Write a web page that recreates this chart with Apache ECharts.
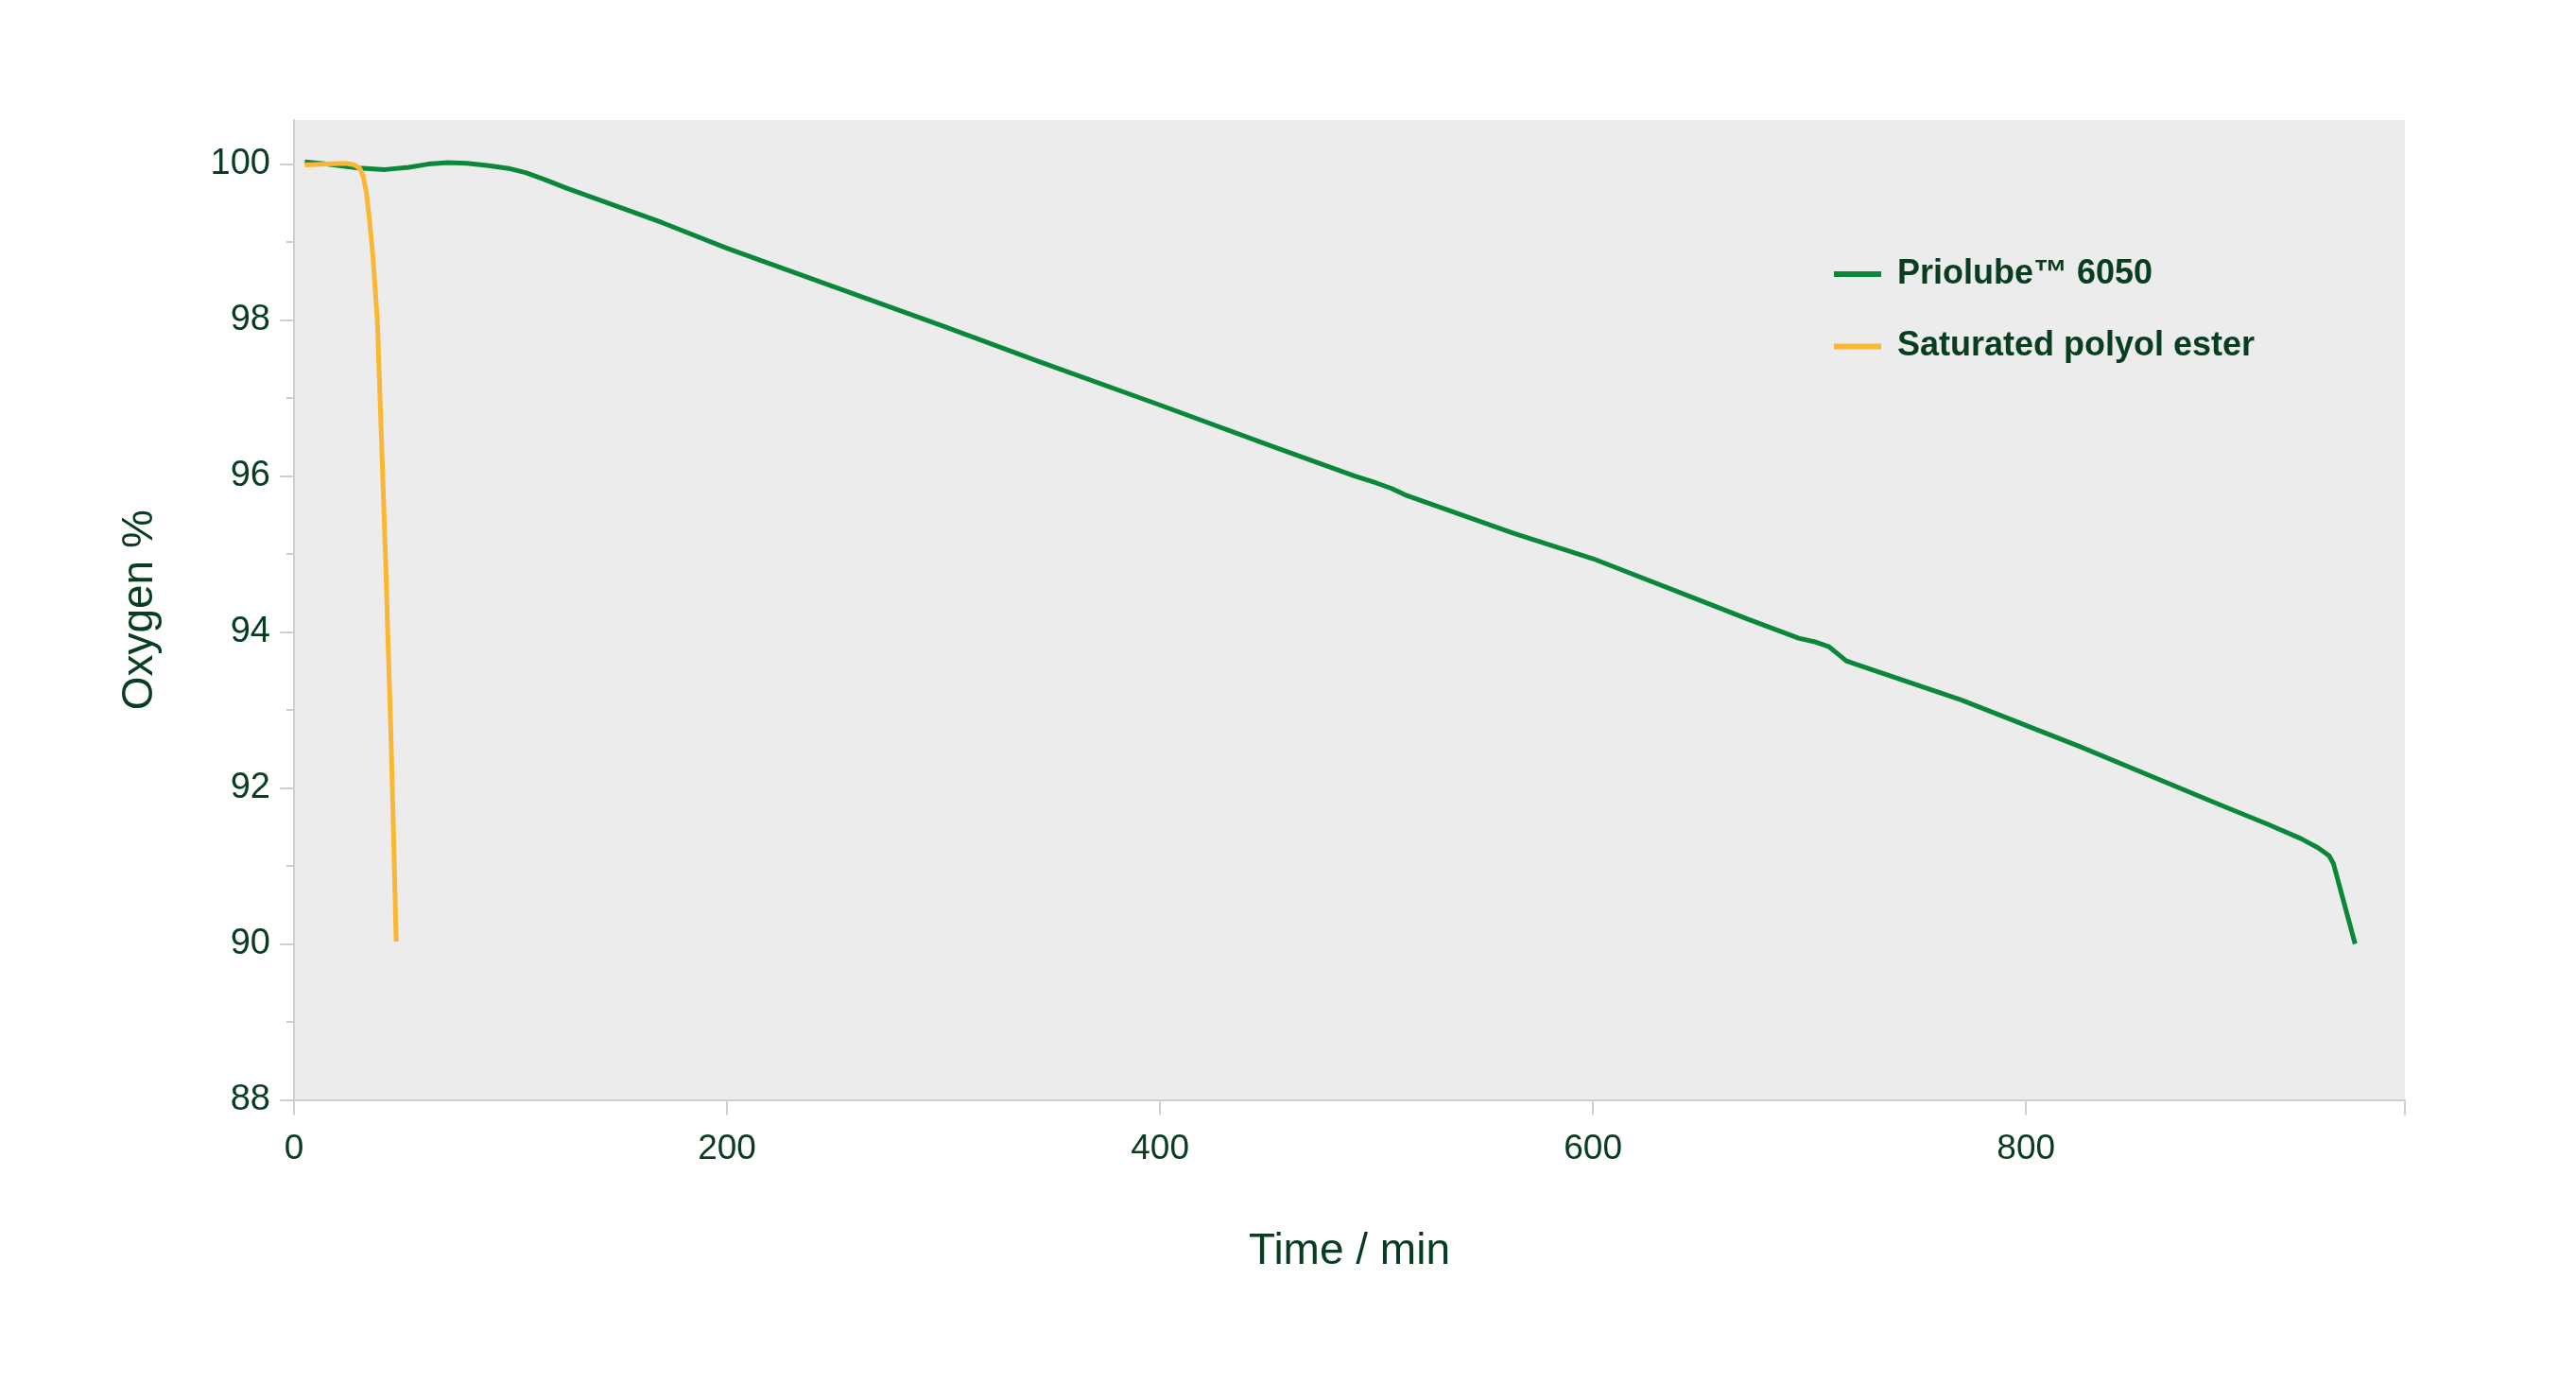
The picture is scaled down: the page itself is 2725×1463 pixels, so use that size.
<!DOCTYPE html>
<html>
<head>
<meta charset="utf-8">
<script src="https://cdn.jsdelivr.net/npm/echarts@6/dist/echarts.min.js"></script>
<style>
html, body { margin: 0; padding: 0; background: #fff; }
#chart { width: 2725px; height: 1463px; }
</style>
</head>
<body>
<div id="chart"></div>
<script>
// values
const seriesNames = ['Priolube\u2122 6050', 'Saturated polyol ester'];

const prioTime = [5, 15, 30, 42, 53, 62, 71, 80, 90, 100, 107, 116, 126, 170, 200, 250, 300, 344, 400, 450, 490, 500, 507, 513, 563, 600, 650, 672, 695, 703, 709, 713, 717, 722, 770, 825, 890, 912, 927, 935, 940, 942, 952];
const prioOxygen = [100.03, 100.0, 99.95, 99.93, 99.96, 100.0, 100.02, 100.01, 99.98, 99.94, 99.89, 99.8, 99.69, 99.25, 98.92, 98.42, 97.92, 97.47, 96.91, 96.4, 96.0, 95.91, 95.84, 95.76, 95.27, 94.94, 94.4, 94.16, 93.92, 93.87, 93.81, 93.72, 93.63, 93.58, 93.13, 92.53, 91.78, 91.53, 91.35, 91.23, 91.13, 91.03, 90.0];

const esterTime = [5, 15, 24, 28, 30.5, 32, 33.5, 35, 36.5, 38.5, 40.5, 42.5, 43.3, 44.7, 46, 47.2];
const esterOxygen = [99.99, 100.0, 100.01, 99.99, 99.94, 99.84, 99.62, 99.25, 98.8, 98.0, 96.4, 94.77, 94.0, 92.76, 91.4, 90.03];

const xTicks = [0, 200, 400, 600, 800];
const yTicks = [88, 90, 92, 94, 96, 98, 100];
const yMinorTicks = [89, 91, 93, 95, 97, 99];

const xMax = 975;
const yMax = 100.565;
const textColor = '#083d20';
const axisColor = '#cfcfcf';
const font = 'Liberation Sans, Arial, sans-serif';

function pairs(xs, ys) {
    return xs.map((x, i) => [x, ys[i]]);
}

const chart = echarts.init(document.getElementById('chart'));

chart.setOption({
    backgroundColor: '#ffffff',
    animation: false,
    grid: {
        left: 311,
        right: 181,
        top: 127,
        bottom: 299.5,
        show: true,
        backgroundColor: '#ececec',
        borderWidth: 0
    },
    legend: {
        orient: 'vertical',
        left: 1935,
        top: 265,
        icon: 'rect',
        itemWidth: 50,
        itemHeight: 6,
        itemGap: 36.5,
        textStyle: {
            color: textColor,
            fontSize: 36,
            fontWeight: 'bold',
            fontFamily: font,
            lineHeight: 40,
            padding: [0, 0, 0, 12]
        },
        data: seriesNames
    },
    xAxis: {
        type: 'value',
        min: 0,
        max: xMax,
        interval: 200,
        name: 'Time / min',
        nameLocation: 'middle',
        nameGap: 138,
        nameTextStyle: { color: textColor, fontSize: 46, fontFamily: font },
        axisLine: { show: true, lineStyle: { color: axisColor, width: 2 } },
        axisTick: {
            show: true, length: 16, customValues: xTicks.concat([xMax]),
            lineStyle: { color: axisColor, width: 2 }
        },
        axisLabel: {
            color: textColor, fontSize: 37, fontFamily: font, margin: 34,
            customValues: xTicks
        },
        splitLine: { show: false }
    },
    yAxis: [{
        type: 'value',
        min: 88,
        max: yMax,
        interval: 2,
        name: 'Oxygen %',
        nameLocation: 'middle',
        nameGap: 140,
        nameTextStyle: { color: textColor, fontSize: 46, fontFamily: font },
        axisLine: { show: true, lineStyle: { color: axisColor, width: 2 } },
        axisTick: { show: true, length: 15, customValues: yTicks, lineStyle: { color: axisColor, width: 2 } },
        axisLabel: {
            color: textColor, fontSize: 38, fontFamily: font, margin: 25,
            customValues: yTicks
        },
        splitLine: { show: false }
    }, {
        type: 'value',
        min: 88,
        max: yMax,
        position: 'left',
        axisLine: { show: false },
        axisTick: { show: true, length: 8, customValues: yMinorTicks, lineStyle: { color: axisColor, width: 2 } },
        axisLabel: { show: false },
        splitLine: { show: false }
    }],
    series: [{
        name: seriesNames[0],
        type: 'line',
        yAxisIndex: 0,
        data: pairs(prioTime, prioOxygen),
        showSymbol: false,
        symbol: 'none',
        smooth: false,
        lineStyle: { color: '#0b873a', width: 5, join: 'round', cap: 'butt' },
        itemStyle: { color: '#0b873a' },
        z: 2
    }, {
        name: seriesNames[1],
        type: 'line',
        yAxisIndex: 0,
        data: pairs(esterTime, esterOxygen),
        showSymbol: false,
        symbol: 'none',
        smooth: false,
        lineStyle: { color: '#fbb734', width: 5, join: 'round', cap: 'butt' },
        itemStyle: { color: '#fbb734' },
        z: 3
    }]
});
</script>
</body>
</html>
